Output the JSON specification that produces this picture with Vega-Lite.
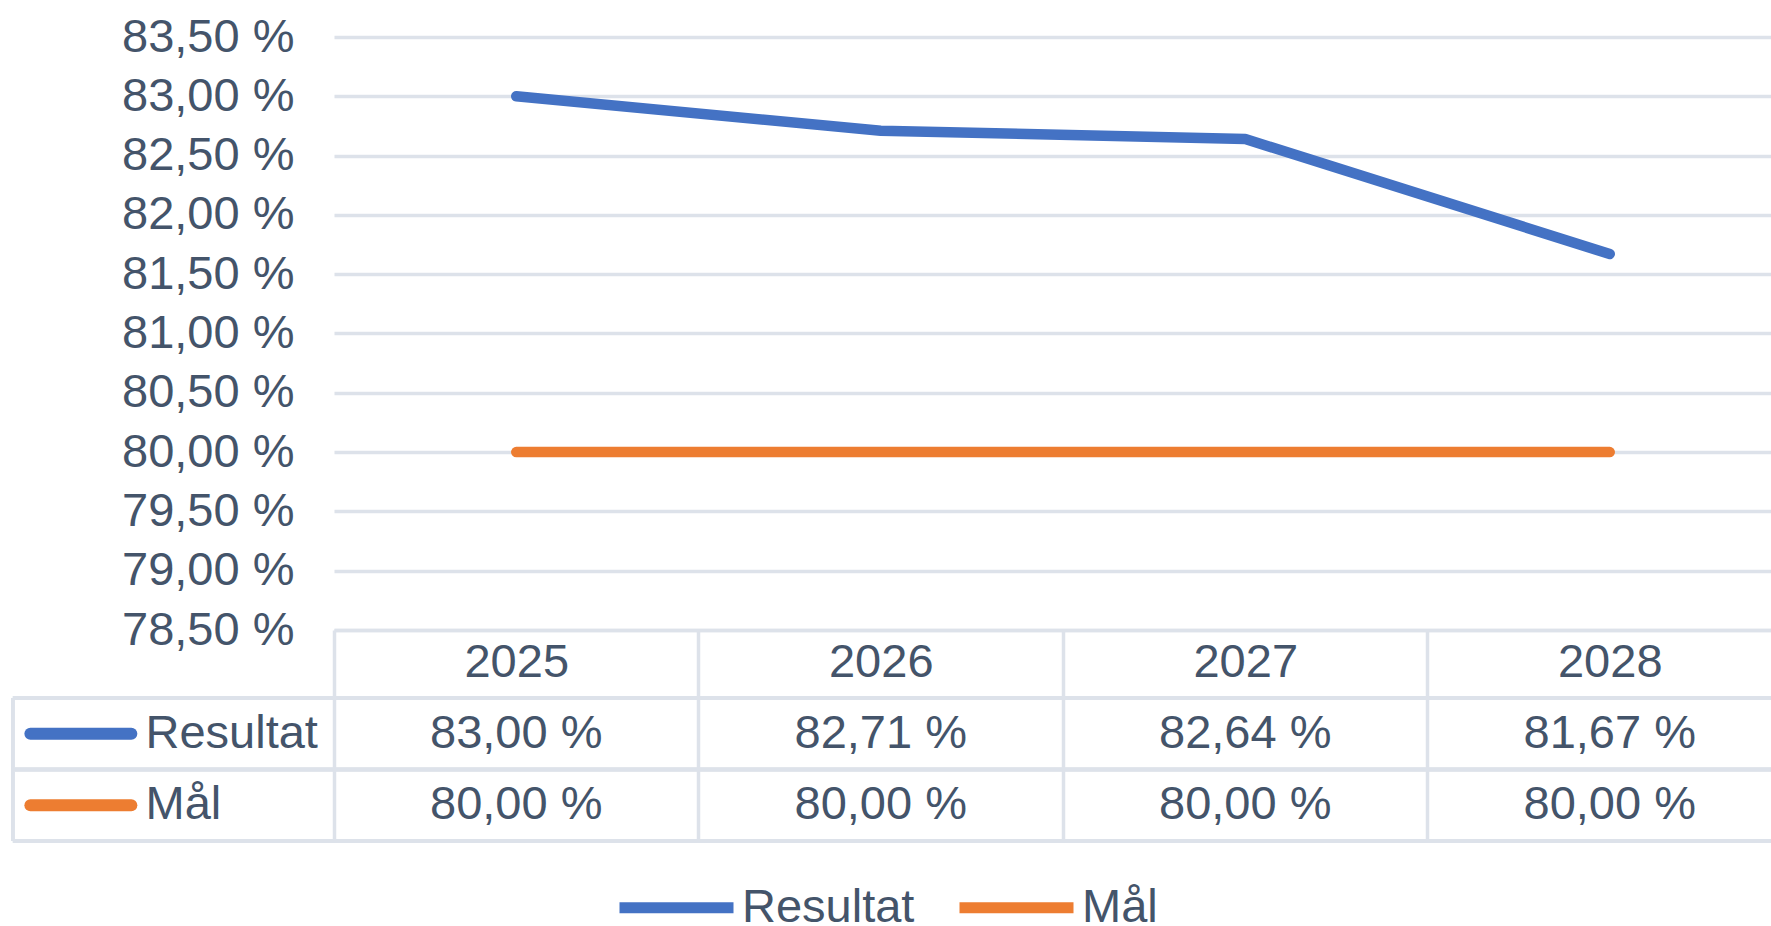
{
  "$schema": "https://vega.github.io/schema/vega-lite/v6.json",
  "autosize": {"type": "none"},
  "padding": {"left": 334, "top": 37, "right": 1437, "bottom": 889},
  "bounds": "flush",
  "spacing": 68,
  "background": "#ffffff",
  "config": {
    "font": "Liberation Sans",
    "view": {"stroke": null},
    "locale": {"number": {"decimal": ",", "thousands": "\u00a0", "grouping": [3], "currency": ["", " kr"], "percent": " %"}},
    "axis": {"labelFont": "Liberation Sans", "labelColor": "#44546A", "labelFontSize": 47, "title": null},
    "legend": {"labelFont": "Liberation Sans"}
  },
  "datasets": {
    "d": [
      {"year": 2025, "serie": "Resultat", "value": 0.83},
      {"year": 2026, "serie": "Resultat", "value": 0.8271},
      {"year": 2027, "serie": "Resultat", "value": 0.8264},
      {"year": 2028, "serie": "Resultat", "value": 0.8167},
      {"year": 2025, "serie": "Mål", "value": 0.80},
      {"year": 2026, "serie": "Mål", "value": 0.80},
      {"year": 2027, "serie": "Mål", "value": 0.80},
      {"year": 2028, "serie": "Mål", "value": 0.80}
    ]
  },
  "resolve": {"scale": {"x": "independent", "y": "independent", "color": "shared"}, "legend": {"color": "shared"}},
  "vconcat": [
    {
      "width": 1437,
      "height": 593,
      "data": {"name": "d"},
      "mark": {"type": "line", "strokeWidth": 10.5, "strokeCap": "round", "strokeJoin": "round"},
      "encoding": {
        "x": {
          "field": "year", "type": "quantitative",
          "scale": {"domain": [2024.5, 2028.4424], "nice": false, "zero": false},
          "axis": {
            "values": [2024.5, 2025.5, 2026.5, 2027.5],
            "labelExpr": "format(datum.value + 0.5, 'd')",
            "labelOffset": 182.25, "labelPadding": -36, "labelBaseline": "middle", "labelAlign": "center",
            "ticks": true, "tickSize": 68, "tickColor": "#dde2ea", "tickWidth": 3.5,
            "domain": true, "domainColor": "#dde2ea", "domainWidth": 3.5,
            "grid": false, "labelFlush": false, "labelOverlap": false, "labelBound": false
          }
        },
        "y": {
          "field": "value", "type": "quantitative",
          "scale": {"domain": [0.785, 0.835], "nice": false, "zero": false},
          "axis": {
            "values": [0.785, 0.79, 0.795, 0.8, 0.805, 0.81, 0.815, 0.82, 0.825, 0.83, 0.835],
            "format": ".2%", "ticks": false, "domain": false, "labelPadding": 40,
            "grid": true, "gridColor": "#dde2ea", "gridWidth": 3.5
          }
        },
        "color": {
          "field": "serie", "type": "nominal",
          "scale": {"domain": ["Resultat", "Mål"], "range": ["#4472C4", "#ED7D31"]},
          "legend": {
            "orient": "none", "legendX": 280, "legendY": 808, "direction": "horizontal",
            "title": null, "symbolType": "stroke", "symbolSize": 12996, "symbolStrokeWidth": 11,
            "labelFontSize": 47, "labelColor": "#44546A", "labelOffset": 3, "labelLimit": 0,
            "columnPadding": 22, "padding": 0
          }
        }
      }
    },
    {
      "width": 1437,
      "height": 143,
      "data": {"name": "d"},
      "layer": [
        {
          "mark": {"type": "text", "fontSize": 47, "color": "#44546A", "baseline": "middle", "align": "center"},
          "encoding": {
            "x": {
              "field": "year", "type": "quantitative",
              "scale": {"domain": [2024.5, 2028.4424], "nice": false, "zero": false},
              "axis": {"values": [2024.5, 2025.5, 2026.5, 2027.5], "grid": true, "gridColor": "#dde2ea", "gridWidth": 3.5, "labels": false, "ticks": false, "domain": false}
            },
            "y": {
              "field": "serie", "type": "nominal",
              "scale": {"domain": ["Resultat", "Mål"], "paddingInner": 0, "paddingOuter": 0},
              "axis": {"labelAlign": "left", "labelPadding": 189, "ticks": false, "domain": false, "grid": false, "labelBaseline": "middle"}
            },
            "text": {"field": "value", "type": "quantitative", "format": ".2%"}
          }
        },
        {
          "mark": {"type": "rule", "color": "#dde2ea", "strokeWidth": 3.5},
          "encoding": {
            "x": {"datum": 2023.619},
            "x2": {"datum": 2028.5},
            "y": {"field": "serie", "type": "nominal", "bandPosition": 0}
          }
        },
        {
          "mark": {"type": "rule", "color": "#dde2ea", "strokeWidth": 3.5},
          "encoding": {
            "x": {"datum": 2023.619},
            "x2": {"datum": 2028.5},
            "y": {"field": "serie", "type": "nominal", "bandPosition": 1}
          }
        },
        {
          "mark": {"type": "rule", "color": "#dde2ea", "strokeWidth": 3.5},
          "encoding": {"x": {"datum": 2023.619}}
        },
        {
          "transform": [{"filter": "datum.year == 2025"}],
          "mark": {"type": "rule", "strokeWidth": 12, "strokeCap": "round"},
          "encoding": {
            "x": {"datum": 2023.667},
            "x2": {"datum": 2023.944},
            "y": {"field": "serie", "type": "nominal"},
            "color": {"field": "serie", "type": "nominal"}
          }
        }
      ]
    }
  ]
}
